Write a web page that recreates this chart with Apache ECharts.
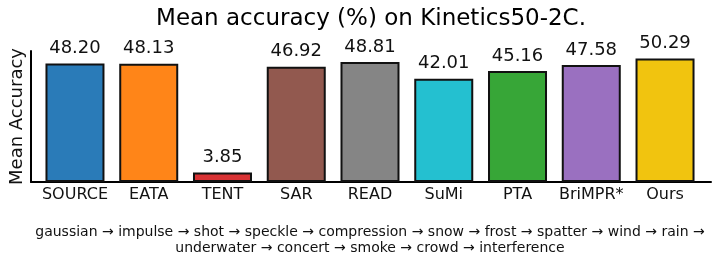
<!DOCTYPE html>
<html>
<head>
<meta charset="utf-8">
<script src="https://cdn.jsdelivr.net/npm/echarts@6/dist/echarts.min.js"></script>
<style>html,body{margin:0;padding:0;background:#fff;}#c{width:718px;height:266px;}</style>
</head>
<body>
<div id="c"></div>
<script>
const methods = ['SOURCE', 'EATA', 'TENT', 'SAR', 'READ', 'SuMi', 'PTA', 'BriMPR*', 'Ours'];
const accuracy = [48.20, 48.13, 3.85, 46.92, 48.81, 42.01, 45.16, 47.58, 50.29];
const barColors = ['#2a7bb8', '#ff8518', '#d83234', '#92594f', '#858585', '#24c0d0', '#37a637', '#9a70c0', '#f1c40f'];
const titleText = 'Mean accuracy (%) on Kinetics50-2C.';
const yName = 'Mean Accuracy';
const captionLines = [
  'gaussian \u2192 impulse \u2192 shot \u2192 speckle \u2192 compression \u2192 snow \u2192 frost \u2192 spatter \u2192 wind \u2192 rain \u2192',
  'underwater \u2192 concert \u2192 smoke \u2192 crowd \u2192 interference'
];
const yMax = 53.3;

const FONT = 'DejaVu Sans';
const chart = echarts.init(document.getElementById('c'), null, {renderer: 'canvas'});
chart.setOption({
  animation: false,
  backgroundColor: '#ffffff',
  textStyle: {fontFamily: FONT},
  grid: [
    {left: 31, right: 7, top: 51, bottom: 84, containLabel: false},
    {left: 38.1, right: 16.1, top: 51, bottom: 84, containLabel: false}
  ],
  xAxis: [
    {gridIndex: 0, type: 'value', min: 0, max: 1, axisLine: {show: true, onZero: false, lineStyle: {color: '#000', width: 2}},
     axisTick: {show: false}, axisLabel: {show: false}, splitLine: {show: false}},
    {gridIndex: 1, type: 'category', data: methods, axisLine: {show: false}, axisTick: {show: false},
     axisLabel: {show: true, fontSize: 16, color: '#111', margin: 5, fontFamily: FONT, interval: 0}}
  ],
  yAxis: [
    {gridIndex: 0, type: 'value', min: 0, max: 1, axisLine: {show: true, onZero: false, lineStyle: {color: '#000', width: 2}},
     axisTick: {show: false}, axisLabel: {show: false}, splitLine: {show: false},
     name: yName, nameLocation: 'middle', nameGap: 5, nameRotate: 90,
     nameTextStyle: {fontSize: 18, color: '#111', fontFamily: FONT}},
    {gridIndex: 1, type: 'value', min: 0, max: yMax, show: false, splitLine: {show: false}}
  ],
  series: [{
    type: 'bar',
    xAxisIndex: 1,
    yAxisIndex: 1,
    barWidth: '80%',
    data: accuracy.map((v, i) => ({value: v, itemStyle: {color: barColors[i]}})),
    itemStyle: {borderColor: '#111', borderWidth: 2},
    label: {
      show: true, position: 'top', distance: 6,
      fontSize: 18, color: '#111', fontFamily: FONT,
      formatter: p => p.value.toFixed(2)
    },
    z: 1
  }],
  graphic: [
    {type: 'text', x: 371, y: 19, z: 10,
     style: {text: titleText, font: '23px "DejaVu Sans"', fill: '#000', textAlign: 'center', textVerticalAlign: 'middle'}},
    {type: 'text', x: 370, y: 225, z: 10,
     style: {text: captionLines.join('\n'), font: '14px "DejaVu Sans"', fill: '#111', textAlign: 'center', textVerticalAlign: 'top', lineHeight: 15.5}}
  ]
});
</script>
</body>
</html>
